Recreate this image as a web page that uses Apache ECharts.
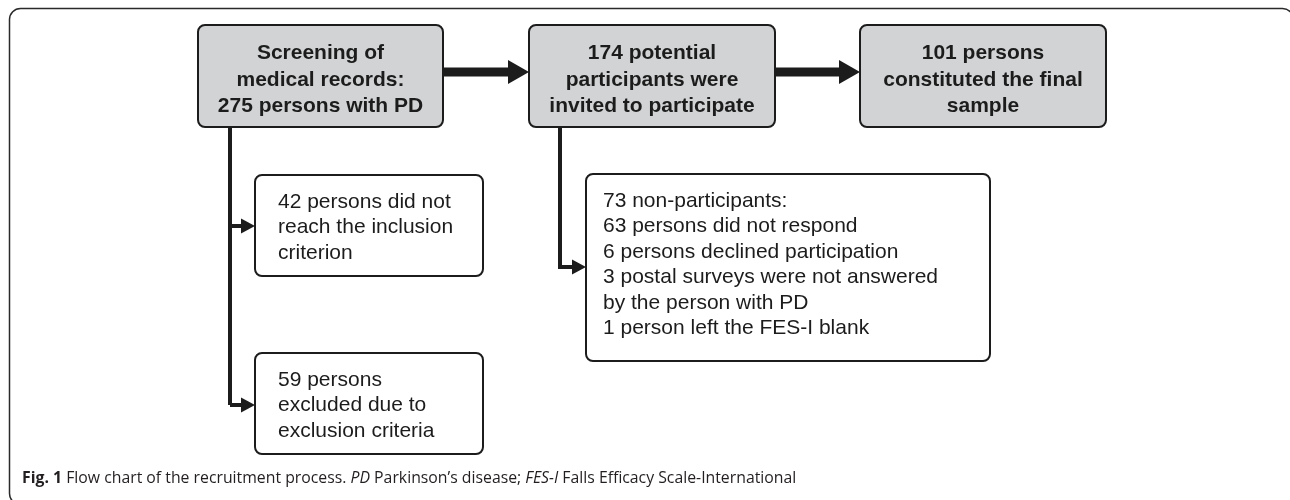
<!DOCTYPE html>
<html>
<head>
<meta charset="utf-8">
<script src="https://cdn.jsdelivr.net/npm/echarts@6/dist/echarts.min.js"></script>
<style>
  html, body { margin: 0; padding: 0; background: #ffffff; }
  #chart { width: 1290px; height: 500px; }
</style>
</head>
<body>
<div id="chart"></div>
<script>
// ---------- data ----------
const stageLabels = [
  'Screening of\nmedical records:\n275 persons with PD',
  '174 potential\nparticipants were\ninvited to participate',
  '101 persons\nconstituted the final\nsample'
];
const exclusionLabels = [
  '42 persons did not\nreach the inclusion\ncriterion',
  '59 persons\nexcluded due to\nexclusion criteria',
  '73 non-participants:\n63 persons did not respond\n6 persons declined participation\n3 postal surveys were not answered\nby the person with PD\n1 person left the FES-I blank'
];
const captionParts = [
  'Fig. 1',
  'Flow chart of the recruitment process.',
  'PD',
  'Parkinson\u2019s disease;',
  'FES-I',
  'Falls Efficacy Scale-International'
];

// ---------- layout (pixel space of the hidden axes) ----------
const stageBoxes = [
  { x: 198, y: 25, w: 245, h: 102 },
  { x: 529, y: 25, w: 246, h: 102 },
  { x: 860, y: 25, w: 246, h: 102 }
];
const exclusionBoxes = [
  { x: 255, y: 175, w: 228, h: 101, pad: 23 },
  { x: 255, y: 353, w: 228, h: 101, pad: 23 },
  { x: 586, y: 174, w: 404, h: 187, pad: 17 }
];
// connectors: polyline points, line width, head length, head half-width
const connectors = [
  { pts: [[443, 72], [529, 72]], lw: 9, hl: 21, hw: 12 },
  { pts: [[775, 72], [860, 72]], lw: 9, hl: 21, hw: 12 },
  { pts: [[230, 127], [230, 405]], lw: 4, hl: 0, hw: 0 },
  { pts: [[230, 226], [255, 226]], lw: 4, hl: 14, hw: 7.5 },
  { pts: [[230, 405], [255, 405]], lw: 4, hl: 14, hw: 7.5 },
  { pts: [[560, 127], [560, 267], [586, 267]], lw: 4, hl: 14, hw: 7.5 }
];

const INK = '#1c1c1c';
const FILL = '#d1d3d4';

const chart = echarts.init(document.getElementById('chart'), null, { renderer: 'canvas' });

function boxRender(boxes, labels, isStage) {
  return function (params, api) {
    const i = params.dataIndex;
    const b = boxes[i];
    const p0 = api.coord([b.x, b.y]);
    const p1 = api.coord([b.x + b.w, b.y + b.h]);
    const x = Math.min(p0[0], p1[0]), y = Math.min(p0[1], p1[1]);
    const w = Math.abs(p1[0] - p0[0]), h = Math.abs(p1[1] - p0[1]);
    const children = [{
      type: 'rect',
      shape: { x: x, y: y, width: w, height: h, r: 7 },
      style: { fill: isStage ? FILL : '#ffffff', stroke: INK, lineWidth: 2 }
    }];
    if (isStage) {
      children.push({
        type: 'text',
        style: {
          text: labels[i], x: x + w / 2, y: y + h / 2 + 4,
          align: 'center', verticalAlign: 'middle',
          fontFamily: '"Liberation Sans", Arial, sans-serif', fontWeight: 'bold', fontSize: 21,
          lineHeight: 26.5, fill: INK
        }
      });
    } else {
      children.push({
        type: 'text',
        style: {
          text: labels[i], x: x + b.pad, y: y + 14,
          align: 'left', verticalAlign: 'top',
          fontFamily: '"Liberation Sans", Arial, sans-serif', fontWeight: 'normal', fontSize: 21,
          lineHeight: 25.5, fill: INK
        }
      });
    }
    return { type: 'group', children: children };
  };
}

function connectorRender(params, api) {
  const c = connectors[params.dataIndex];
  const pts = c.pts.map(p => api.coord(p));
  const children = [];
  const n = pts.length;
  const tip = pts[n - 1], prev = pts[n - 2];
  const dx = tip[0] - prev[0], dy = tip[1] - prev[1];
  const len = Math.sqrt(dx * dx + dy * dy) || 1;
  const ux = dx / len, uy = dy / len;
  const base = [tip[0] - ux * c.hl, tip[1] - uy * c.hl];
  const linePts = pts.slice(0, n - 1).concat([c.hl > 0 ? [base[0] + ux, base[1] + uy] : tip]);
  children.push({
    type: 'polyline',
    shape: { points: linePts },
    style: { stroke: INK, lineWidth: c.lw, fill: null, lineJoin: 'miter', lineCap: 'butt' }
  });
  if (c.hl > 0) {
    children.push({
      type: 'polygon',
      shape: { points: [
        tip,
        [base[0] - uy * c.hw, base[1] + ux * c.hw],
        [base[0] + uy * c.hw, base[1] - ux * c.hw]
      ] },
      style: { fill: INK }
    });
  }
  return { type: 'group', children: children };
}

const option = {
  animation: false,
  backgroundColor: '#ffffff',
  grid: { left: 0, right: 0, top: 0, bottom: 0 },
  xAxis: { type: 'value', min: 0, max: 1290, show: false },
  yAxis: { type: 'value', min: 0, max: 500, inverse: true, show: false },
  title: {
    text: '{b|' + captionParts[0] + '} ' + captionParts[1] + ' {i|' + captionParts[2] + '} ' +
          captionParts[3] + ' {i|' + captionParts[4] + '} ' + captionParts[5],
    left: 22, top: 470, padding: 0,
    textStyle: {
      fontFamily: '"Open Sans", sans-serif', fontSize: 15.8, fontWeight: 'normal', color: '#231f20',
      rich: {
        b: { fontFamily: '"Open Sans", sans-serif', fontSize: 15.8, fontWeight: 'bold', color: '#231f20' },
        i: { fontFamily: '"Open Sans", sans-serif', fontSize: 15.8, fontStyle: 'italic', color: '#231f20' }
      }
    }
  },
  graphic: [{
    type: 'rect', silent: true, z: -1,
    shape: { x: 9.5, y: 8.5, width: 1284, height: 496, r: 11 },
    style: { fill: null, stroke: '#2a2a2a', lineWidth: 1.5 }
  }],
  series: [
    {
      type: 'custom', name: 'connectors', silent: true, clip: false,
      data: connectors.map((c, i) => i),
      renderItem: connectorRender, z: 3
    },
    {
      type: 'custom', name: 'stages', silent: true, clip: false,
      data: stageLabels.map((s, i) => i),
      renderItem: boxRender(stageBoxes, stageLabels, true), z: 4
    },
    {
      type: 'custom', name: 'exclusions', silent: true, clip: false,
      data: exclusionLabels.map((s, i) => i),
      renderItem: boxRender(exclusionBoxes, exclusionLabels, false), z: 4
    }
  ]
};
chart.setOption(option);
</script>
</body>
</html>
